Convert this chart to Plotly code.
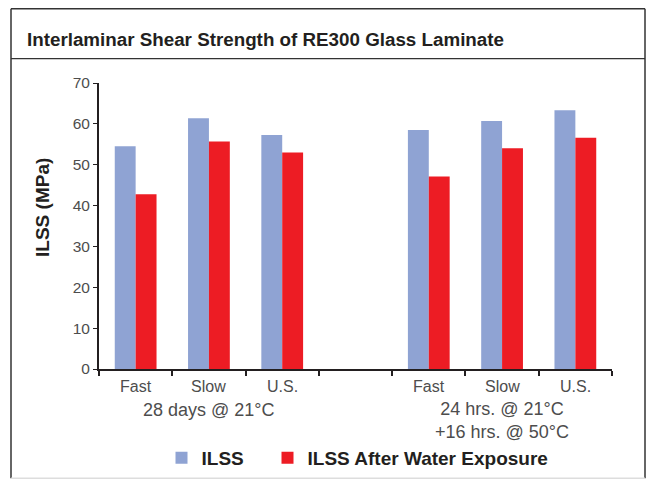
import plotly.graph_objects as go

# ---- data ----
categories = ["Fast", "Slow", "U.S."]
group_labels = ["28 days @ 21°C", "24 hrs. @ 21°C<br>+16 hrs. @ 50°C"]
ilss_28d = [54.5, 61.4, 57.3]
ilss_water_28d = [42.8, 55.7, 53.0]
ilss_24h = [58.5, 60.7, 63.3]
ilss_water_24h = [47.1, 54.0, 56.6]
y_ticks = [0, 10, 20, 30, 40, 50, 60, 70]

W, H = 651, 489
L, R, T, B = 99, 39, 83, 113
PW, PH = W - L - R, H - T - B

def px(x):
    return (x - L) / PW

def py(y):
    return (H - B - y) / PH

# category positions: group 1 at 0,1,2 ; gap at 3 ; group 2 at 4,5,6
pos1 = [0, 1, 2]
pos2 = [4, 5, 6]
xs = pos1 + pos2

blue = "#8fa3d3"
red = "#ed1c24"
dark = "#231f20"
grey = "#4d4d4d"
font = "Liberation Sans, Arial, sans-serif"

fig = go.Figure()
fig.add_trace(go.Bar(x=xs, y=ilss_28d + ilss_24h, name="ILSS",
                     marker=dict(color=blue, line=dict(width=0)), legend="legend"))
fig.add_trace(go.Bar(x=xs, y=ilss_water_28d + ilss_water_24h, name="ILSS After Water Exposure",
                     marker=dict(color=red, line=dict(width=0)), legend="legend2"))

annotations = []
for p, c in zip(xs, categories + categories):
    annotations.append(dict(x=p, y=py(394), xref="x", yref="paper", text=c,
                            showarrow=False, font=dict(family=font, size=16, color=grey),
                            xanchor="center", yanchor="middle"))
annotations.append(dict(x=1, y=py(418), xref="x", yref="paper", text=group_labels[0],
                        showarrow=False, font=dict(family=font, size=18, color=grey),
                        xanchor="center", yanchor="middle"))
annotations.append(dict(x=5, y=py(429), xref="x", yref="paper", text=group_labels[1],
                        showarrow=False, font=dict(family=font, size=18, color=grey),
                        xanchor="center", yanchor="middle", align="center"))
annotations.append(dict(x=px(43), y=py(211), xref="paper", yref="paper",
                        text="<b>ILSS (MPa)</b>", textangle=-90, showarrow=False,
                        font=dict(family=font, size=19, color=dark),
                        xanchor="center", yanchor="middle"))

shapes = [
    # outer frame
    dict(type="line", xref="paper", yref="paper", x0=px(11), x1=px(11), y0=py(7), y1=py(488),
         line=dict(color="#333333", width=1.5)),
    dict(type="line", xref="paper", yref="paper", x0=px(645), x1=px(645), y0=py(7), y1=py(488),
         line=dict(color="#333333", width=1.5)),
    dict(type="line", xref="paper", yref="paper", x0=px(11), x1=px(645), y0=py(7), y1=py(7),
         line=dict(color="#333333", width=1.5)),
    dict(type="line", xref="paper", yref="paper", x0=px(11), x1=px(645), y0=py(58), y1=py(58),
         line=dict(color="#333333", width=1.2)),
    dict(type="line", xref="paper", yref="paper", x0=px(11), x1=px(645), y0=py(488), y1=py(488),
         line=dict(color="#dddddd", width=1.5)),
]

legend_common = dict(orientation="h", xanchor="left", yanchor="middle",
                     font=dict(family=font, size=19, color=dark, weight="bold"),
                     itemwidth=30, bgcolor="rgba(0,0,0,0)", itemclick=False,
                     itemdoubleclick=False)

fig.update_layout(
    width=W, height=H,
    margin=dict(l=L, r=R, t=T, b=B, pad=0),
    paper_bgcolor="white", plot_bgcolor="white",
    barmode="group", bargap=0.43, bargroupgap=0,
    title=dict(text="<b>Interlaminar Shear Strength of RE300 Glass Laminate</b>",
               x=27 / W, xanchor="left", xref="container",
               y=1 - 39 / H, yanchor="middle", yref="container",
               font=dict(family=font, size=18.8, color=dark)),
    xaxis=dict(range=[-0.5, 6.5], tickvals=[i - 0.5 for i in range(8)],
               ticktext=[""] * 8, ticks="outside", ticklen=5, tickwidth=1.5,
               tickcolor=dark, showline=True, linecolor=dark, linewidth=2,
               showgrid=False, zeroline=False, fixedrange=True),
    yaxis=dict(range=[0, 70], tickvals=y_ticks, ticks="outside", ticklen=4,
               tickwidth=1, tickcolor=dark, showline=True, linecolor=dark,
               linewidth=2, showgrid=False, zeroline=False, fixedrange=True,
               tickfont=dict(family=font, size=15.5, color=grey)),
    legend=dict(x=px(161.5), y=py(467), **legend_common),
    legend2=dict(x=px(267.5), y=py(467), **legend_common),
    annotations=annotations,
    shapes=shapes,
    showlegend=True,
)

fig.write_html("out.html", config={"displayModeBar": False},
               post_script="document.body.style.margin='0';")
